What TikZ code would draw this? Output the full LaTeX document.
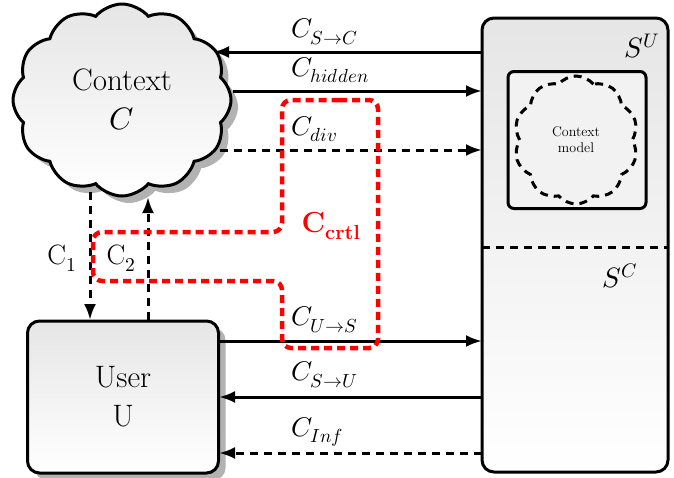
\documentclass[tikz,border=0pt]{standalone}
\usepackage{fontspec}
\usepackage{unicode-math}
\setmathfont{Latin Modern Math}
\usetikzlibrary{shapes.symbols,shadows,arrows.meta,calc}
\begin{document}
\begin{tikzpicture}[x=1pt,y=-1pt,
  font=\fontsize{31}{37}\selectfont,
  solidline/.style={line width=3pt},
  dashline/.style={line width=3pt, dash pattern=on 8pt off 6pt},
  tipend/.style={-{Latex[length=16pt,width=12pt]}},
  shade/.style={top color=gray!20, bottom color=white},
  shadowed/.style={drop shadow={shadow xshift=7pt, shadow yshift=-7pt, fill=gray!60, opacity=1}},
  boxstyle/.style={draw, line width=3pt, shade, rounded corners=12pt},
  lbl/.style={anchor=west, inner sep=0pt, font=\fontsize{27}{32}\selectfont},
  redpath/.style={draw=red, line width=4.5pt, dash pattern=on 8pt off 5pt, rounded corners=9pt}
]
\useasboundingbox (0,0) rectangle (674,477);

% right system box
\node[boxstyle, minimum width=186pt, minimum height=454pt] (S) at (575,245) {};
\coordinate (sl) at (482,247);
\coordinate (sr) at (668,247);
\draw[dashline] (sl) -- (sr);
\node[font=\fontsize{28}{32}\selectfont] (SU) at (642,46) {$S^{U}$};
\node[font=\fontsize{28}{32}\selectfont] (SC) at (620,276) {$S^{C}$};

% inner context model box
\node[draw, line width=3pt, fill=gray!10, rounded corners=6pt, minimum width=138pt, minimum height=137pt] (M) at (577,140) {};
\node[cloud, cloud puffs=10, cloud puff arc=100, draw, dashline, minimum width=124pt, minimum height=128pt, align=center, font=\fontsize{14}{16}\selectfont] (CM) at (576,140) {Context\\model};

% context cloud
\node[cloud, cloud puffs=12, cloud puff arc=100, draw, line width=3pt, shade, shadowed, minimum width=218pt, minimum height=192pt, align=center] (ctx) at (122,100) {Context\\[2pt]$C$};

% user box
\node[boxstyle, shadowed, minimum width=191pt, minimum height=152pt, align=center] (U) at (123,397) {User\\[2pt]U};

% coordinates on the borders
\coordinate (a1) at (482,52);  \coordinate (b1) at (213,52);
\coordinate (a2) at (233,91);  \coordinate (b2) at (482,91);
\coordinate (a3) at (220,150); \coordinate (b3) at (482,150);
\coordinate (a4) at (90,192);  \coordinate (b4) at (90,320);
\coordinate (a5) at (148,320); \coordinate (b5) at (148,197);
\coordinate (a6) at (218,341); \coordinate (b6) at (482,341);
\coordinate (a7) at (482,397); \coordinate (b7) at (219,397);
\coordinate (a8) at (482,453); \coordinate (b8) at (219,453);

\draw[solidline, tipend] (a1) -- (b1);
\draw[solidline, tipend] (a2) -- (b2);
\draw[dashline, tipend] (a3) -- (b3);
\draw[dashline, tipend] (a4) -- (b4);
\draw[dashline, tipend] (a5) -- (b5);
\draw[solidline, tipend] (a6) -- (b6);
\draw[solidline, tipend] (a7) -- (b7);
\draw[dashline, tipend] (a8) -- (b8);

% labels
\node[lbl] (l1) at (291,32) {$C_{S\to C}$};
\node[lbl] (l2) at (291,70) {$C_{hidden}$};
\node[lbl] (l3) at (291,129) {$C_{div}$};
\node[font=\fontsize{28}{32}\selectfont] (l4) at (62,258) {$\mathrm{C}_1$};
\node[font=\fontsize{28}{32}\selectfont] (l5) at (121,258) {$\mathrm{C}_2$};
\node[lbl] (l6) at (291,320) {$C_{U\to S}$};
\node[lbl] (l7) at (291,375) {$C_{S\to U}$};
\node[lbl] (l8) at (291,432) {$C_{Inf}$};

% control channel
\coordinate (r1) at (330,100);
\coordinate (r2) at (378,100);
\coordinate (r3) at (378,348);
\coordinate (r4) at (282,348);
\coordinate (r5) at (282,281);
\coordinate (r6) at (93,281);
\coordinate (r7) at (93,232);
\coordinate (r8) at (282,232);
\coordinate (r9) at (282,100);
\draw[redpath] (r1) -- (r2) -- (r3) -- (r4) -- (r5) -- (r6) -- (r7) -- (r8) -- (r9) -- cycle;
\node[text=red, font=\fontsize{29}{33}\selectfont\bfseries] (crtl) at (331,226) {C\textsubscript{crtl}};
\end{tikzpicture}
\end{document}
